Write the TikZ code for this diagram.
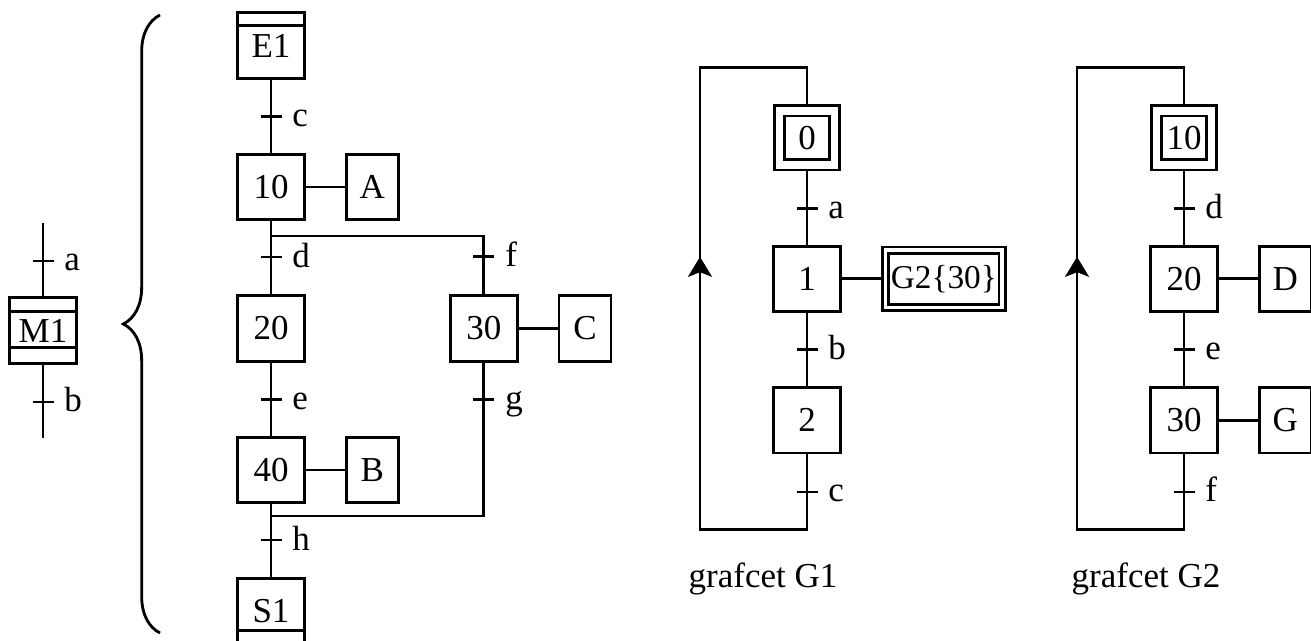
\documentclass[tikz,border=0pt]{standalone}
\usepackage{fontspec}
\setmainfont{Liberation Serif}
\usetikzlibrary{positioning, arrows.meta, calc, decorations.pathreplacing}
\newcommand{\trans}[3]{\draw[trbar] (#2) ++(-3.15pt,0pt) -- ++(6.3pt,0pt) node[trlbl] (#1) {#3};}
\tikzset{
  stepbox/.style  ={draw, minimum width=20pt, minimum height=19.6pt, inner sep=0pt},
  initstep/.style ={stepbox, double, double distance=2.2pt, minimum width=16.6pt,
                    minimum height=16.2pt, outer sep=1.95pt},
  entrystep/.style={stepbox, path picture={\draw ([yshift=-3.9pt]path picture bounding box.north west)
                    -- ([yshift=-3.9pt]path picture bounding box.north east);}},
  exitstep/.style ={stepbox, path picture={\draw ([yshift=4.2pt]path picture bounding box.south west)
                    -- ([yshift=4.2pt]path picture bounding box.south east);}},
  macrostep/.style={stepbox, path picture={\draw ([yshift=-4.2pt]path picture bounding box.north west)
                    -- ([yshift=-4.2pt]path picture bounding box.north east);
                    \draw ([yshift=4.6pt]path picture bounding box.south west)
                    -- ([yshift=4.6pt]path picture bounding box.south east);}},
  actbox/.style   ={draw, minimum width=15.6pt, minimum height=19.6pt, inner sep=0pt},
  macroact/.style ={draw, double, double distance=1.1pt, minimum width=33.6pt,
                    minimum height=17.2pt, inner sep=1.6pt, outer sep=1.4pt,
                    font=\fontsize{10}{12}\selectfont},
  trbar/.style    ={line width=0.85pt},
  trlbl/.style    ={anchor=base west, inner sep=0pt, xshift=2.85pt, yshift=-3pt},
  gtitle/.style   ={anchor=base},
  loopup/.style   ={-{Stealth[length=6pt, width=7.2pt, inset=1.4pt]}},
}
\begin{document}
\begin{tikzpicture}[x=0.3pt, y=-0.3pt, line width=0.85pt, font=\fontsize{10.5}{12}\selectfont]
  \useasboundingbox (0,0) rectangle (1311,641);
  % macro-step M1
  \node[macrostep] (M1) at (43,330.5) {M1};
  \coordinate (m1top) at (43,223);
  \coordinate (m1bot) at (43,438);
  \draw (m1top) -- (M1) -- (m1bot);
  \trans{ta}{43,261}{a}
  \trans{tb}{43,402}{b}
  % brace
  \coordinate (brbot) at (160,633);
  \coordinate (brtop) at (160,15);
  \draw[decorate, decoration={brace, amplitude=11pt}] (brbot) -- (brtop);
  % expansion of M1
  \node[entrystep] (E1) at (271,45.5) {E1};
  \node[stepbox, below=22pt of E1] (S10) {10};
  \node[actbox, right=11.7pt of S10] (A) {A};
  \node[stepbox, below=22pt of S10] (S20) {20};
  \node[stepbox, right=43pt of S20] (S30) {30};
  \node[actbox, right=11.7pt of S30] (C) {C};
  \node[stepbox, below=22pt of S20] (S40) {40};
  \node[actbox, right=11.7pt of S40] (B) {B};
  \node[exitstep, below=22pt of S40] (S1) {S1};
  \coordinate (div) at ($(S10.south)+(0,15)$);
  \coordinate (conv) at ($(S40.south)+(0,12)$);
  \draw (E1) -- (S10);
  \draw (S10) -- (A);
  \draw (S10) -- (S20);
  \draw (div) -| (S30);
  \draw (S30) -- (C);
  \draw (S20) -- (S40);
  \draw (S30) |- (conv);
  \draw (S40) -- (B);
  \draw (S40) -- (S1);
  \trans{tc}{$(E1.south)!0.5!(S10.north)$}{c}
  \trans{td}{$(S10.south)+(0,36)$}{d}
  \trans{tf}{$(S30.north)+(0,-38)$}{f}
  \trans{te}{$(S20.south)!0.5!(S40.north)$}{e}
  \trans{tg}{$(S30.south)+(0,37)$}{g}
  \trans{th}{$(S40.south)+(0,36)$}{h}
  % grafcet G1
  \node[initstep] (G0) at (807,138) {0};
  \node[stepbox, below=22pt of G0] (G1s) {1};
  \node[macroact, right=11.7pt of G1s] (G2m) {G2\{30\}};
  \node[stepbox, below=22pt of G1s] (G2s) {2};
  \coordinate (l1b) at ($(G2s.south)+(0,75)$);
  \coordinate (l1t) at ($(G0.north)+(0,-37)$);
  \coordinate (g1bl) at ($(l1b)+(-107,0)$);
  \coordinate (g1tl) at (g1bl |- l1t);
  \coordinate (g1arr) at ($(g1bl |- G1s.north)+(0,12)$);
  \draw (G0) -- (G1s) -- (G2s) -- (l1b) -- (g1bl) -- (g1tl) -- (l1t) -- (G0);
  \draw (G1s) -- (G2m);
  \draw[loopup] (g1bl) -- (g1arr);
  \trans{g1a}{$(G0.south)!0.5!(G1s.north)$}{a}
  \trans{g1b}{$(G1s.south)!0.5!(G2s.north)$}{b}
  \trans{g1c}{$(G2s.south)!0.5!(l1b)$}{c}
  \node[gtitle] (t1) at (763,587) {grafcet G1};
  % grafcet G2
  \node[initstep] (H10) at (1184,138) {10};
  \node[stepbox, below=22pt of H10] (H20) {20};
  \node[actbox, right=11.7pt of H20] (D) {D};
  \node[stepbox, below=22pt of H20] (H30) {30};
  \node[actbox, right=11.7pt of H30] (G) {G};
  \coordinate (l2b) at ($(H30.south)+(0,75)$);
  \coordinate (l2t) at ($(H10.north)+(0,-37)$);
  \coordinate (g2bl) at ($(l2b)+(-107,0)$);
  \coordinate (g2tl) at (g2bl |- l2t);
  \coordinate (g2arr) at ($(g2bl |- H20.north)+(0,12)$);
  \draw (H10) -- (H20) -- (H30) -- (l2b) -- (g2bl) -- (g2tl) -- (l2t) -- (H10);
  \draw (H20) -- (D);
  \draw (H30) -- (G);
  \draw[loopup] (g2bl) -- (g2arr);
  \trans{g2d}{$(H10.south)!0.5!(H20.north)$}{d}
  \trans{g2e}{$(H20.south)!0.5!(H30.north)$}{e}
  \trans{g2f}{$(H30.south)!0.5!(l2b)$}{f}
  \node[gtitle] (t2) at (1146,587) {grafcet G2};
\end{tikzpicture}
\end{document}
